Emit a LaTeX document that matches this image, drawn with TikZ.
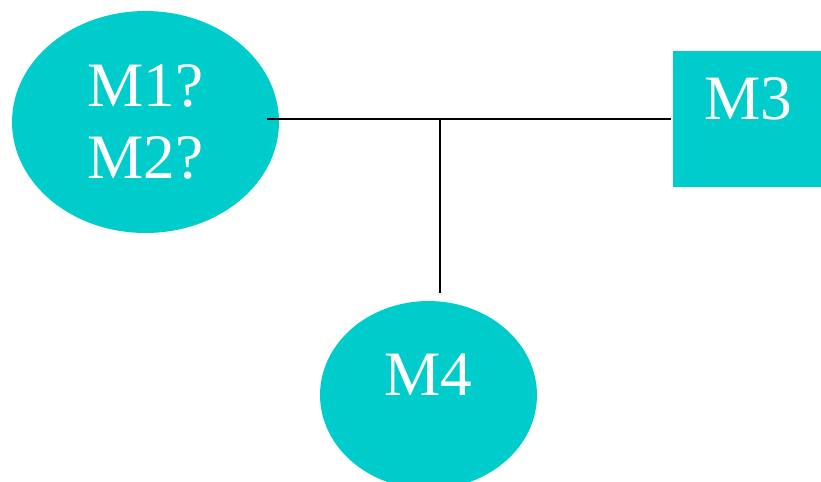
\documentclass[tikz,border=0pt]{standalone}
\usepackage{fontspec}
\setmainfont{Liberation Serif}
\usetikzlibrary{shapes.geometric}

\definecolor{modcyan}{RGB}{0,204,204}

\tikzset{
  module/.style = {fill = modcyan, draw = none, text = white, inner sep = 0pt,
                   font = \fontsize{36}{41}\selectfont, align = center},
  modell/.style = {module, ellipse},
  modbox/.style = {module, rectangle},
  midbase/.style = {text height = 0.7em, text depth = 0.7em},
  wire/.style = {line width = 1.1pt, black}
}

\begin{document}
\begin{tikzpicture}[x = 0.02cm, y = -0.02cm]
            \clip (0,0) rectangle (821,481);

            \node [modell, minimum width = 5.34cm, minimum height = 4.44cm]
            (m12) at (145.5,122) {M1?\\M2?};

            \node [modbox, midbase, minimum width = 3cm, minimum height = 2.72cm]
            (m3) at (748,119) {M3};

            \node [modell, midbase, minimum width = 4.34cm, minimum height = 3.76cm]
            (m4) at (428.5,395) {M4};

            \coordinate (j) at (440,119);

            \draw [wire]
            ([shift = {(-12,0)}]m12.east |- j) --
            (j) --
            ([shift = {(-2,0)}]m3.west);

            \draw [wire]
            (j) --
            ([shift = {(0,-8)}]j |- m4.north);
        \end{tikzpicture}
\end{document}
